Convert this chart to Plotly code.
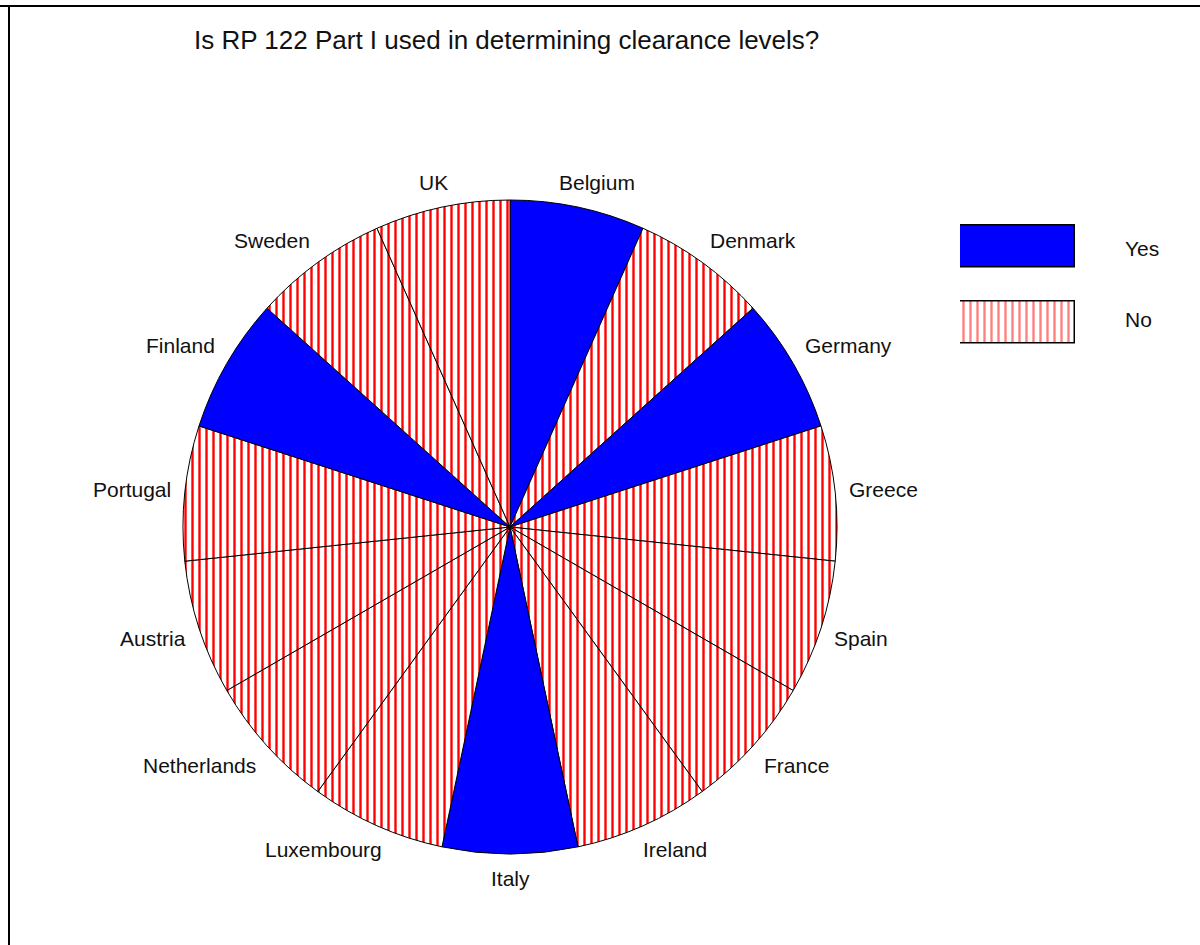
import math
import plotly.graph_objects as go

W, H = 1200, 945

# Survey answers per member state, clockwise from 12 o'clock
countries = ["Belgium", "Denmark", "Germany", "Greece", "Spain", "France",
             "Ireland", "Italy", "Luxembourg", "Netherlands", "Austria",
             "Portugal", "Finland", "Sweden", "UK"]
answers = ["Yes", "No", "Yes", "No", "No", "No", "No", "Yes", "No", "No",
           "No", "No", "Yes", "No", "No"]
shares = [1] * len(countries)

categories = ["Yes", "No"]

BLUE = "#0000FF"
RED = "#FF0000"
FONT = "Liberation Sans, Arial, sans-serif"
TXT = "#111111"
LABEL_SIZE = 21
STRIPE = dict(size=7, solidity=0.34)

# Arial advance widths (per 1000 em) for label width estimates
ARIAL_W = {
    "B": 667, "D": 722, "G": 778, "S": 667, "F": 611, "I": 278, "L": 556,
    "N": 722, "A": 667, "P": 667, "U": 722, "K": 667, "R": 722,
    "a": 556, "b": 556, "c": 500, "d": 556, "e": 556, "g": 556, "h": 556,
    "i": 222, "k": 500, "l": 222, "m": 833, "n": 556, "o": 556, "p": 556,
    "r": 333, "s": 500, "t": 278, "u": 556, "w": 722, "x": 500, "y": 500,
    " ": 278,
}


def text_width(s, size):
    return sum(ARIAL_W.get(ch, 556) for ch in s) * size / 1000.0


def px_x(x):
    return x / W


def px_y(y):
    return 1 - y / H


cx, cy, r = 510, 527, 327

fig = go.Figure()

fig.add_trace(go.Pie(
    labels=countries,
    values=shares,
    sort=False,
    direction="clockwise",
    rotation=0,
    textinfo="none",
    marker=dict(
        colors=[BLUE if a == "Yes" else "white" for a in answers],
        pattern=dict(
            shape=["" if a == "Yes" else "|" for a in answers],
            fgcolor=[BLUE if a == "Yes" else RED for a in answers],
            bgcolor=[BLUE if a == "Yes" else "white" for a in answers],
            **STRIPE,
        ),
        line=dict(color="black", width=1),
    ),
    domain=dict(x=[px_x(cx - r), px_x(cx + r)], y=[px_y(cy + r), px_y(cy - r)]),
    showlegend=False,
    hoverinfo="label",
))

# Key: one outlined box per answer
for cat in categories:
    yes = cat == "Yes"
    fig.add_trace(go.Bar(
        y=[cat],
        x=[1],
        orientation="h",
        width=0.55,
        marker=dict(
            color=BLUE if yes else "white",
            pattern=dict(shape="" if yes else "|", fgcolor=BLUE if yes else RED,
                         bgcolor=BLUE if yes else "white", **STRIPE),
            line=dict(color="black", width=1.5),
        ),
        xaxis="x", yaxis="y",
        showlegend=False,
        hoverinfo="y",
    ))

annotations = [
    dict(text="Is RP 122 Part I used in determining clearance levels?",
         x=px_x(506), y=px_y(40), xref="paper", yref="paper",
         xanchor="center", yanchor="middle",
         showarrow=False, font=dict(family=FONT, size=26, color=TXT)),
]
for cat, yy in zip(categories, [248, 319]):
    annotations.append(dict(text=cat, x=px_x(1123), y=px_y(yy), xref="paper", yref="paper",
                            xanchor="left", yanchor="middle", showarrow=False,
                            font=dict(family=FONT, size=LABEL_SIZE, color=TXT)))

# Country labels just outside the rim, at each slice's mid angle
total = sum(shares)
acc = 0.0
gap = 14
for name, v in zip(countries, shares):
    theta = 2 * math.pi * (acc + v / 2) / total
    acc += v
    s, c = math.sin(theta), math.cos(theta)
    px = cx + (r + gap) * s
    py = cy - (r + gap) * c
    w = text_width(name, LABEL_SIZE)
    h = LABEL_SIZE
    fx = max(-1.0, min(1.0, 2 * s))
    fy = max(-1.0, min(1.0, 2 * c))
    lx = px + fx * w / 2
    ly = py - fy * h / 2
    annotations.append(dict(text=name, x=px_x(lx), y=px_y(ly), xref="paper", yref="paper",
                            xanchor="center", yanchor="middle", showarrow=False,
                            font=dict(family=FONT, size=LABEL_SIZE, color=TXT)))

fig.update_layout(
    width=W, height=H,
    margin=dict(l=0, r=0, t=0, b=0),
    paper_bgcolor="white", plot_bgcolor="white",
    xaxis=dict(domain=[px_x(960), px_x(1075)], range=[0, 1], visible=False, fixedrange=True),
    yaxis=dict(domain=[px_y(360.5), px_y(208.5)], range=[1.5, -0.5], visible=False,
               categoryorder="array", categoryarray=categories, fixedrange=True),
    bargap=0,
    annotations=annotations,
    shapes=[
        dict(type="line", xref="paper", yref="paper", x0=0, x1=1, y0=px_y(6), y1=px_y(6),
             line=dict(color="black", width=2)),
        dict(type="line", xref="paper", yref="paper", x0=px_x(9), x1=px_x(9), y0=0, y1=px_y(5),
             line=dict(color="black", width=2)),
    ],
)

fig.write_html("out.html")
